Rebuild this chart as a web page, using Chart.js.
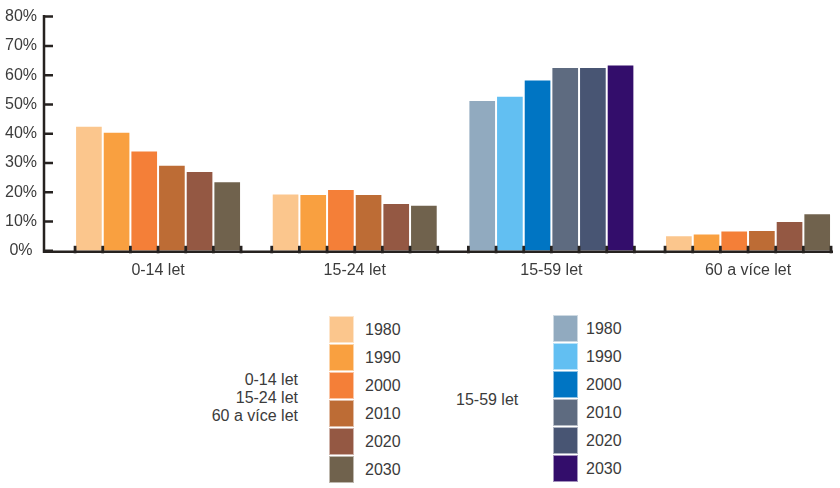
<!DOCTYPE html>
<html lang="cs">
<head>
<meta charset="utf-8">
<title>Věková struktura obyvatelstva</title>
<script src="https://cdn.jsdelivr.net/npm/chart.js@4.4.1/dist/chart.umd.min.js"></script>
<style>
  html, body { margin: 0; padding: 0; background: #fff; }
  body {
    width: 840px; height: 488px; position: relative; overflow: hidden;
    font-family: "Liberation Sans", Arial, sans-serif; color: #3b3b3b;
  }
  #chartBox { position: absolute; left: 0; top: 0; width: 840px; height: 290px; }
  .lg-label { position: absolute; font-size: 16px; line-height: 18.3px; white-space: nowrap; }
  .lg-swatch { position: absolute; width: 25px; height: 27px; box-sizing: border-box; border: 1px solid rgba(255,255,255,0.55); }
  .lg-year { position: absolute; font-size: 16px; line-height: 28px; height: 28px; }
</style>
</head>
<body>
<div id="chartBox"><canvas id="ageChart"></canvas></div>
<div id="legend"></div>

<script>
// categories on the x axis
const categories = ['0-14 let', '15-24 let', '15-59 let', '60 a více let'];
const years = ['1980', '1990', '2000', '2010', '2020', '2030'];

// share of population (%) per year, one value per category
const v1980 = [42.7, 19.6, 51.5, 5.3];
const v1990 = [40.7, 19.4, 53.0, 5.9];
const v2000 = [34.3, 21.1, 58.5, 6.9];
const v2010 = [29.4, 19.4, 62.8, 7.1];
const v2020 = [27.3, 16.3, 62.8, 10.2];
const v2030 = [23.8, 15.7, 63.6, 12.8];
const seriesValues = [v1980, v1990, v2000, v2010, v2020, v2030];

// y axis ticks
const yMin = 0;
const yMax = 80;
const yStep = 10;

// palettes: the 15-59 group is drawn in blues, everything else in oranges
const orangeColors = ['#fbc68d', '#f9a040', '#f47f38', '#bd6c35', '#945843', '#70624d'];
const blueColors = ['#91aabf', '#62bff2', '#0075c3', '#5e6b80', '#485573', '#330d6b'];
const blueCategory = 2;

const axisColor = '#262220';
const textColor = '#3b3b3b';

// draws the axis lines, inward y ticks and the small marks at bar edges
const axisMarks = {
  id: 'axisMarks',
  afterDatasetsDraw(chart) {
    const ctx = chart.ctx;
    const a = chart.chartArea;
    const y = chart.scales.y;
    ctx.save();
    ctx.strokeStyle = axisColor;
    ctx.fillStyle = axisColor;
    ctx.lineWidth = 2.5;
    ctx.beginPath();
    ctx.moveTo(a.left, a.top - 1.5);
    ctx.lineTo(a.left, a.bottom + 2);
    ctx.moveTo(a.left - 1.2, a.bottom + 1);
    ctx.lineTo(a.right, a.bottom + 1);
    y.ticks.forEach(t => {
      const py = y.getPixelForValue(t.value);
      ctx.moveTo(a.left, py);
      ctx.lineTo(a.left + 9, py);
    });
    ctx.stroke();

    const last = chart.data.datasets.length - 1;
    chart.data.datasets.forEach((d, i) => {
      chart.getDatasetMeta(i).data.forEach(bar => {
        const edges = [bar.x - bar.width / 2];
        if (i === last) edges.push(bar.x + bar.width / 2);
        edges.forEach(ex => ctx.fillRect(ex - 1.4, a.bottom - 5, 2.8, 7.5));
      });
    });
    ctx.restore();
  }
};

const ctx = document.getElementById('ageChart').getContext('2d');

new Chart(ctx, {
  type: 'bar',
  data: {
    datasets: years.map((yr, k) => ({
      label: yr,
      data: seriesValues[k].map((v, i) => ({ x: i, y: v })),
      backgroundColor: c => c.dataIndex === blueCategory ? blueColors[k] : orangeColors[k],
      borderColor: 'rgba(255,255,255,0.45)',
      borderWidth: 1,
      categoryPercentage: 0.844,
      barPercentage: 1
    }))
  },
  options: {
    responsive: true,
    maintainAspectRatio: false,
    animation: false,
    layout: { padding: { top: 5, left: 5, right: 7, bottom: 0 } },
    plugins: {
      legend: { display: false },
      tooltip: { enabled: false }
    },
    scales: {
      x: {
        type: 'linear',
        offset: false,
        min: -0.58,
        max: 3.432,
        grid: { display: false, drawTicks: false },
        border: { display: false },
        ticks: {
          stepSize: 1,
          includeBounds: false,
          autoSkip: false,
          maxRotation: 0,
          padding: 10,
          color: textColor,
          font: { family: 'Liberation Sans', size: 16 },
          callback: v => categories[v] ?? ''
        }
      },
      y: {
        min: yMin,
        max: yMax,
        grid: { display: false, drawTicks: false },
        border: { display: false },
        afterFit: s => { s.width = 39; },
        ticks: {
          stepSize: yStep,
          padding: 7,
          crossAlign: 'center',
          color: textColor,
          font: { family: 'Liberation Sans', size: 16 },
          callback: v => v + '%'
        }
      }
    }
  },
  plugins: [axisMarks]
});

// custom legend below the chart: two palettes, each with the groups it applies to
function legendGroup(colors, groupNames, opts) {
  const box = document.getElementById('legend');
  const lbl = document.createElement('div');
  lbl.className = 'lg-label';
  lbl.style.textAlign = opts.align;
  if (opts.align === 'right') lbl.style.right = (840 - opts.labelX) + 'px';
  else lbl.style.left = opts.labelX + 'px';
  lbl.style.top = (opts.labelMid - groupNames.length * 18.3 / 2) + 'px';
  lbl.innerHTML = groupNames.join('<br>');
  box.appendChild(lbl);

  colors.forEach((col, k) => {
    const sw = document.createElement('div');
    sw.className = 'lg-swatch';
    sw.style.background = col;
    sw.style.left = opts.swatchX + 'px';
    sw.style.top = (opts.top + k * 28) + 'px';
    box.appendChild(sw);

    const yr = document.createElement('div');
    yr.className = 'lg-year';
    yr.textContent = years[k];
    yr.style.left = (opts.swatchX + opts.gap) + 'px';
    yr.style.top = (opts.top + k * 28) + 'px';
    box.appendChild(yr);
  });
}

legendGroup(orangeColors, categories.filter((c, i) => i !== blueCategory),
  { align: 'right', labelX: 298, labelMid: 398, swatchX: 329, top: 316, gap: 36 });
legendGroup(blueColors, [categories[blueCategory]],
  { align: 'left', labelX: 456, labelMid: 400, swatchX: 553, top: 315, gap: 33 });
</script>
</body>
</html>
